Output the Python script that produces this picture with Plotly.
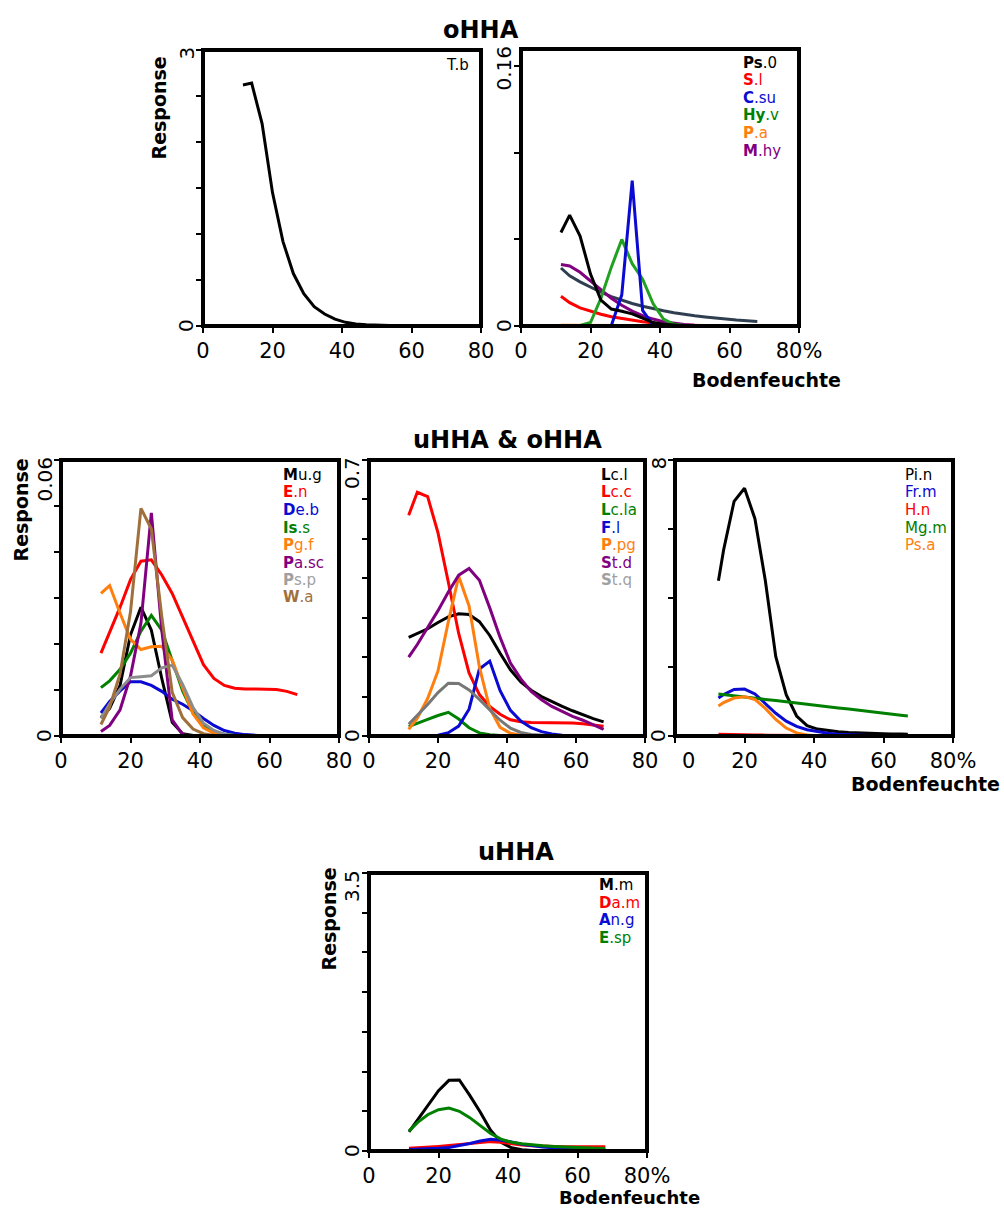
import plotly.graph_objects as go

W, H = 1004, 1208
FONT = "DejaVu Sans"

# ---------------- data ----------------
X = [11.5, 14, 17, 20, 23, 26, 29, 32, 35, 38, 41, 44, 47, 50, 53, 56, 59, 62, 65, 68]
X5 = [12.5, 14, 17, 20, 23, 26, 29, 32, 35, 38, 41, 44, 47, 50, 53, 56, 59, 62, 65, 67]

# Panel 1 (oHHA)
tb = [2.62, 2.64, 2.2, 1.45, 0.92, 0.57, 0.35, 0.21, 0.13, 0.075, 0.04, 0.022, 0.014, 0.009, 0.006, 0.004, 0.003, 0.002, 0.001, 0.001]

# Panel 2 (oHHA)
ps0 = [0.054, 0.064, 0.052, 0.030, 0.015, 0.0098, 0.0085, 0.007, 0.0045, 0.002, 0.001, 0.0005, 0.0002, 0.0001, 0, 0, 0, 0, 0, 0]
sl = [0.0172, 0.0135, 0.0105, 0.0085, 0.0068, 0.0053, 0.0042, 0.0032, 0.0024, 0.0017, 0.0011, 0.0007, 0.0005, 0.0003, 0.0002, 0.0001, 0.0001, 0.0001, 0.0001, 0.0001]
csu = [0, 0, 0, 0, 0, 0.0003, 0.018, 0.084, 0.009, 0.0005, 0, 0, 0, 0, 0, 0, 0, 0, 0, 0]
hyv = [0, 0.0001, 0.0003, 0.002, 0.016, 0.034, 0.050, 0.036, 0.027, 0.013, 0.004, 0.001, 0.0003, 0.0001, 0, 0, 0, 0, 0, 0]
pa = [0.0004, 0.0004, 0.0003, 0.0003, 0.0003, 0.0002, 0.0002, 0.0002, 0.0001, 0.0001, 0.0001, 0.0001, 0, 0, 0, 0, 0, 0, 0, 0]
mhy = [0.0355, 0.0347, 0.031, 0.026, 0.021, 0.016, 0.012, 0.0086, 0.006, 0.004, 0.0025, 0.0015, 0.0009, 0.0005, 0.0003, 0.0002, 0.0001, 0.0001, 0.0001, 0.0001]
slate = [0.0335, 0.029, 0.0255, 0.0225, 0.0195, 0.017, 0.0148, 0.013, 0.0114, 0.010, 0.0088, 0.0077, 0.0067, 0.0059, 0.0052, 0.0045, 0.0039, 0.0034, 0.003, 0.0026]

# Panel 3 (uHHA & oHHA)
mug = [0.004, 0.006, 0.011, 0.022, 0.028, 0.023, 0.0125, 0.003, 0.0005, 0.0001, 0, 0, 0, 0, 0, 0, 0, 0, 0, 0]
en = [0.018, 0.0225, 0.028, 0.034, 0.038, 0.0383, 0.035, 0.031, 0.0258, 0.0205, 0.0155, 0.0125, 0.011, 0.0104, 0.0102, 0.0102, 0.0102, 0.0101, 0.0097, 0.009]
deb = [0.005, 0.0075, 0.0098, 0.0118, 0.0118, 0.011, 0.0097, 0.008, 0.0069, 0.0055, 0.0038, 0.0023, 0.0012, 0.0006, 0.0003, 0.0001, 0, 0, 0, 0]
iss = [0.0105, 0.012, 0.0145, 0.018, 0.0228, 0.0262, 0.023, 0.0165, 0.0098, 0.005, 0.0025, 0.001, 0.0004, 0.0001, 0, 0, 0, 0, 0, 0]
pgf = [0.031, 0.0327, 0.0267, 0.021, 0.0188, 0.0194, 0.0195, 0.0165, 0.0105, 0.0048, 0.0018, 0.0006, 0.0002, 0, 0, 0, 0, 0, 0, 0]
pasc = [0.001, 0.0023, 0.0057, 0.013, 0.0245, 0.0485, 0.023, 0.0035, 0.0003, 0, 0, 0, 0, 0, 0, 0, 0, 0, 0, 0]
psp = [0.0038, 0.007, 0.0102, 0.0127, 0.0129, 0.0131, 0.0148, 0.0154, 0.0112, 0.0062, 0.0028, 0.0012, 0.0004, 0.0001, 0, 0, 0, 0, 0, 0]
wa = [0.0025, 0.0063, 0.0135, 0.027, 0.0495, 0.045, 0.026, 0.0095, 0.004, 0.0015, 0.0005, 0.0001, 0, 0, 0, 0, 0, 0, 0, 0]

# Panel 4 (uHHA & oHHA)
lcl = [0.25, 0.26, 0.272, 0.288, 0.302, 0.31, 0.308, 0.29, 0.255, 0.21, 0.168, 0.137, 0.116, 0.1, 0.087, 0.075, 0.064, 0.053, 0.044, 0.036]
lcc = [0.56, 0.618, 0.607, 0.515, 0.39, 0.26, 0.16, 0.105, 0.075, 0.055, 0.041, 0.036, 0.034, 0.034, 0.034, 0.034, 0.033, 0.031, 0.028, 0.025]
lcla = [0.024, 0.033, 0.042, 0.052, 0.06, 0.043, 0.021, 0.008, 0.003, 0.001, 0.0003, 0, 0, 0, 0, 0, 0, 0, 0, 0]
fl = [0.0005, 0.0008, 0.0012, 0.002, 0.0085, 0.025, 0.068, 0.17, 0.19, 0.115, 0.065, 0.038, 0.021, 0.011, 0.005, 0.002, 0.001, 0.0005, 0.0002, 0.0001]
ppg = [0.017, 0.045, 0.095, 0.165, 0.29, 0.405, 0.33, 0.175, 0.07, 0.022, 0.007, 0.002, 0.0005, 0, 0, 0, 0, 0, 0, 0]
std = [0.2, 0.232, 0.275, 0.318, 0.365, 0.408, 0.425, 0.395, 0.325, 0.25, 0.185, 0.145, 0.113, 0.092, 0.075, 0.062, 0.05, 0.04, 0.028, 0.017]
stq = [0.03, 0.052, 0.08, 0.11, 0.134, 0.133, 0.117, 0.093, 0.066, 0.04, 0.02, 0.009, 0.004, 0.0015, 0.0005, 0, 0, 0, 0, 0]

# Panel 5 (uHHA & oHHA)
pin = [4.5, 5.4, 6.8, 7.18, 6.3, 4.5, 2.3, 1.2, 0.58, 0.3, 0.2, 0.15, 0.12, 0.1, 0.085, 0.075, 0.065, 0.06, 0.055, 0.05]
frm = [1.1, 1.2, 1.35, 1.36, 1.22, 0.95, 0.66, 0.43, 0.28, 0.18, 0.12, 0.08, 0.05, 0.03, 0.02, 0.012, 0.008, 0.005, 0.003, 0.002]
hn = [0.05, 0.045, 0.04, 0.035, 0.03, 0.025, 0.02, 0.017, 0.014, 0.012, 0.01, 0.009, 0.008, 0.007, 0.006, 0.006, 0.005, 0.005, 0.005, 0.005]
mgm = [1.22, 1.2, 1.17, 1.13, 1.1, 1.06, 1.03, 0.99, 0.96, 0.92, 0.88, 0.85, 0.81, 0.78, 0.74, 0.71, 0.67, 0.64, 0.6, 0.58]
psa = [0.87, 0.97, 1.1, 1.14, 1.06, 0.8, 0.48, 0.23, 0.09, 0.03, 0.01, 0.003, 0.001, 0.001, 0, 0, 0, 0, 0, 0]

# Panel 6 (uHHA)
mm = [0.24, 0.39, 0.58, 0.76, 0.89, 0.895, 0.7, 0.49, 0.26, 0.11, 0.04, 0.015, 0.005, 0.002, 0, 0, 0, 0, 0, 0]
dam = [0.035, 0.04, 0.048, 0.058, 0.068, 0.08, 0.092, 0.105, 0.118, 0.11, 0.09, 0.075, 0.066, 0.06, 0.057, 0.055, 0.055, 0.055, 0.055, 0.055]
ang = [0.02, 0.022, 0.026, 0.034, 0.045, 0.068, 0.095, 0.125, 0.147, 0.135, 0.115, 0.085, 0.065, 0.05, 0.04, 0.032, 0.027, 0.023, 0.021, 0.02]
esp = [0.25, 0.36, 0.46, 0.52, 0.54, 0.5, 0.42, 0.32, 0.22, 0.15, 0.11, 0.09, 0.075, 0.065, 0.058, 0.05, 0.045, 0.04, 0.036, 0.033]

# tick values / labels
x_ticks = [0, 20, 40, 60, 80]
x_text = ["0", "20", "40", "60", "80"]
x_text_pct = ["0", "20", "40", "60", "80%"]
x_text_pct_nozero = ["", "20", "40", "60", "80%"]
y1_ticks = [0, 0.5, 1, 1.5, 2, 2.5, 3]
y2_ticks = [0, 0.05, 0.1, 0.15]
y3_ticks = [0, 0.01, 0.02, 0.03, 0.04, 0.05, 0.06]
y4_ticks = [0, 0.1, 0.2, 0.3, 0.4, 0.5, 0.6, 0.7]
y5_ticks = [0, 2, 4, 6, 8]
y6_ticks = [0, 0.5, 1, 1.5, 2, 2.5, 3, 3.5]

BLACK, RED, BLUE, GREEN, ORANGE, PURPLE = "#000000", "#ff0000", "#0a0ad2", "#008000", "#ff7f0e", "#800080"
GREY, BROWN, SLATE, LGREEN = "#8c8c8c", "#a0703c", "#2f3f4f", "#22a022"

panels = [
    dict(box=(203, 50, 481, 326), ymax=3, yticks=y1_ticks, ytop="3", xtext=x_text, xs=X,
         series=[(tb, BLACK)],
         legend=[("T.b", BLACK)], leg=(445, 65)),
    dict(box=(521, 49, 799, 326), ymax=0.16, yticks=y2_ticks, ytop="0.16", xtext=x_text_pct, xs=X,
         series=[(slate, SLATE), (pa, ORANGE), (sl, RED), (mhy, PURPLE), (hyv, LGREEN), (csu, BLUE), (ps0, BLACK)],
         legend=[("<b>Ps</b>.0", BLACK), ("<b>S</b>.l", RED), ("<b>C</b>.su", BLUE),
                 ("<b>Hy</b>.v", GREEN), ("<b>P</b>.a", ORANGE), ("<b>M</b>.hy", PURPLE)], leg=(742, 63)),
    dict(box=(61, 460, 339, 736), ymax=0.06, yticks=y3_ticks, ytop="0.06", xtext=x_text, xs=X,
         series=[(mug, BLACK), (en, RED), (deb, BLUE), (iss, GREEN), (pgf, ORANGE), (pasc, PURPLE), (psp, GREY), (wa, BROWN)],
         legend=[("<b>M</b>u.g", BLACK), ("<b>E</b>.n", RED), ("<b>D</b>e.b", BLUE), ("<b>Is</b>.s", GREEN),
                 ("<b>P</b>g.f", ORANGE), ("<b>P</b>a.sc", PURPLE), ("<b>P</b>s.p", "#a0a0a0"), ("<b>W</b>.a", BROWN)],
         leg=(282, 475)),
    dict(box=(369, 460, 645, 736), ymax=0.7, yticks=y4_ticks, ytop="0.7", xtext=x_text, xs=X,
         series=[(lcl, BLACK), (lcc, RED), (lcla, GREEN), (fl, BLUE), (ppg, ORANGE), (std, PURPLE), (stq, "#777777")],
         legend=[("<b>L</b>c.l", BLACK), ("<b>L</b>c.c", RED), ("<b>L</b>c.la", GREEN), ("<b>F</b>.l", BLUE),
                 ("<b>P</b>.pg", ORANGE), ("<b>S</b>t.d", PURPLE), ("<b>S</b>t.q", "#a0a0a0")], leg=(600, 475)),
    dict(box=(675, 460, 953, 736), ymax=8, yticks=y5_ticks, ytop="8", xtext=x_text_pct_nozero, xs=X5,
         series=[(pin, BLACK), (frm, BLUE), (hn, RED), (mgm, GREEN), (psa, ORANGE)],
         legend=[("Pi.n", BLACK), ("Fr.m", BLUE), ("H.n", RED), ("Mg.m", GREEN), ("Ps.a", ORANGE)], leg=(904, 475)),
    dict(box=(369, 873, 647, 1151), ymax=3.5, yticks=y6_ticks, ytop="3.5", xtext=x_text_pct, xs=X,
         series=[(mm, BLACK), (dam, RED), (ang, BLUE), (esp, GREEN)],
         legend=[("<b>M</b>.m", BLACK), ("<b>D</b>a.m", RED), ("<b>A</b>n.g", BLUE), ("<b>E</b>.sp", GREEN)],
         leg=(598, 885)),
]


def px(xp):
    return xp / W


def py(yp):
    return 1 - yp / H


fig = go.Figure()
layout = dict(template="none", width=W, height=H, margin=dict(l=0, r=0, t=0, b=0, pad=0, autoexpand=False),
              paper_bgcolor="white", plot_bgcolor="white", showlegend=False,
              font=dict(family=FONT, color="black"))
annotations = []
shapes = []
LEG_STEP = 17.5

for i, p in enumerate(panels, start=1):
    sfx = "" if i == 1 else str(i)
    xa, ya = "x" + sfx, "y" + sfx
    x0, y0, x1, y1 = p["box"]
    layout["xaxis" + sfx] = dict(
        domain=[px(x0), px(x1)], range=[0, 80], anchor=ya, automargin=False,
        showgrid=False, zeroline=False, showline=False,
        ticks="outside", ticklen=6, tickwidth=2, tickcolor="black",
        tickvals=x_ticks, ticktext=p["xtext"],
        tickfont=dict(family=FONT, size=21, color="black"), fixedrange=True)
    layout["yaxis" + sfx] = dict(
        domain=[py(y1), py(y0)], range=[0, p["ymax"]], anchor=xa, automargin=False,
        showgrid=False, zeroline=False, showline=False,
        ticks="outside", ticklen=6, tickwidth=2, tickcolor="black",
        tickvals=p["yticks"], showticklabels=False, fixedrange=True)
    for vals, col in p["series"]:
        fig.add_trace(go.Scatter(x=p["xs"], y=vals, mode="lines", xaxis=xa, yaxis=ya,
                                 line=dict(color=col, width=3), hoverinfo="skip"))
    shapes.append(dict(type="rect", xref=xa + " domain", yref=ya + " domain",
                       x0=0, x1=1, y0=0, y1=1, line=dict(color="black", width=4), layer="above"))
    # y tick labels (rotated)
    annotations.append(dict(text="0", xref="paper", yref=ya, x=px(x0 - 17), y=0,
                            xanchor="center", yanchor="middle", textangle=-90, showarrow=False, borderpad=0,
                            font=dict(family=FONT, size=20, color="black")))
    annotations.append(dict(text=p["ytop"], xref="paper", yref=ya, x=px(x0 - 17), y=p["ymax"],
                            xanchor="center", yanchor="top", yshift=4, textangle=-90, showarrow=False, borderpad=0,
                            font=dict(family=FONT, size=20, color="black")))
    # legend entries
    lx, ly = p["leg"]
    for k, (txt, col) in enumerate(p["legend"]):
        annotations.append(dict(text=txt, xref="paper", yref="paper", x=px(lx), y=py(ly + k * LEG_STEP),
                                xanchor="left", yanchor="middle", showarrow=False, borderpad=0,
                                font=dict(family=FONT, size=15, color=col)))

# shifted "0" tick label of panel 5 (kept clear of the neighbouring "80")
annotations.append(dict(text="0", xref="x5", yref="paper", x=0, xshift=13, y=py(761),
                        xanchor="center", yanchor="middle", showarrow=False, borderpad=0,
                        font=dict(family=FONT, size=21, color="black")))

# titles
for txt, cx, cy in [("oHHA", 481, 30), ("uHHA &amp; oHHA", 507, 440), ("uHHA", 516, 852)]:
    annotations.append(dict(text="<b>" + txt + "</b>", xref="paper", yref="paper", x=px(cx), y=py(cy),
                            xanchor="center", yanchor="middle", showarrow=False, borderpad=0,
                            font=dict(family=FONT, size=24, color="black")))

# Response labels
for cx, top in [(158, 56), (20, 458), (328, 867)]:
    annotations.append(dict(text="<b>Response</b>", xref="paper", yref="paper", x=px(cx), y=py(top),
                            xanchor="center", yanchor="top", textangle=-90, showarrow=False, borderpad=0,
                            font=dict(family=FONT, size=19, color="black")))

# Bodenfeuchte labels
for rx, cy, fs in [(842, 380, 19), (1001, 784, 19), (701, 1197, 18)]:
    annotations.append(dict(text="<b>Bodenfeuchte</b>", xref="paper", yref="paper", x=px(rx), y=py(cy),
                            xanchor="right", yanchor="middle", showarrow=False, borderpad=0,
                            font=dict(family=FONT, size=fs, color="black")))

layout["annotations"] = annotations
layout["shapes"] = shapes
fig.update_layout(**layout)
fig.write_html("out.html")
